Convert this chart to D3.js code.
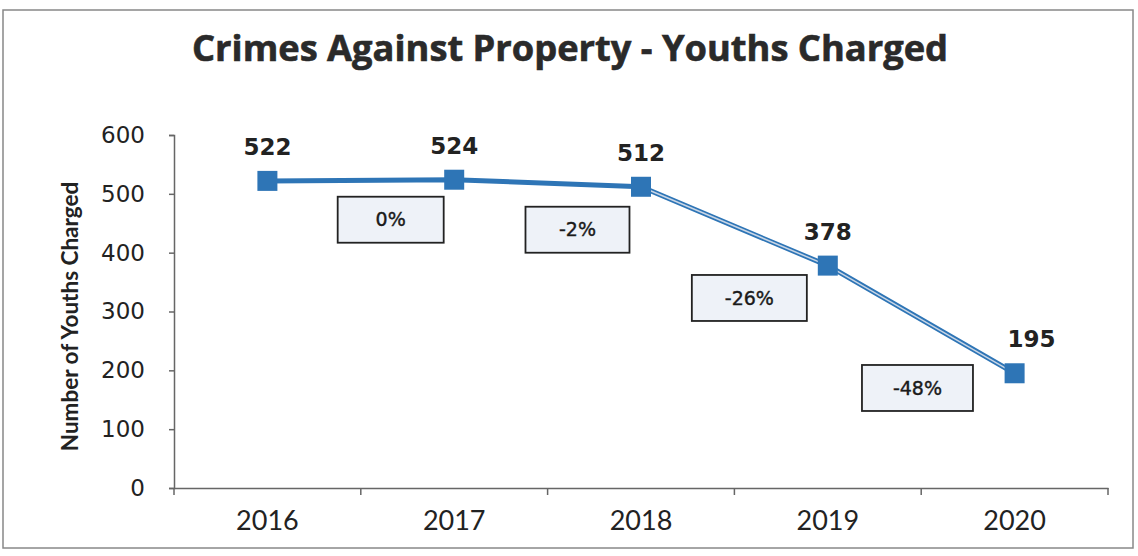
<!DOCTYPE html>
<html><head><meta charset="utf-8">
<script src="https://cdn.jsdelivr.net/npm/d3@7"></script>
<style>body{margin:0;background:#fff}svg{display:block}</style>
</head><body>
<svg id="c" width="1138" height="556"></svg>
<script>
const years = ["2016","2017","2018","2019","2020"];
const values = [522, 524, 512, 378, 195];
const yTicks = [0,100,200,300,400,500,600];
const pctLabels = ["0%","-2%","-26%","-48%"];
// annotation anchor in data space: fractional category index, value
const pctX = [0.66, 1.66, 2.58, 3.48];
const pctY = [456, 439, 323, 170];
const pctW = [106, 104, 115, 111];
const title = "Crimes Against Property - Youths Charged";
const yTitle = "Number of Youths Charged";

const svg = d3.select("#c");
const L = 174, R = 1108, T = 135, B = 488;
const blue = "#2e75b6";

svg.append("rect").attr("x",3).attr("y",10).attr("width",1130).attr("height",538)
  .attr("fill","none").attr("stroke","#888").attr("stroke-width",1.5);

const x = d3.scaleBand().domain(years).range([L,R]);
const xc = i => L + (i+0.5)*x.bandwidth();
const y = d3.scaleLinear().domain([0,600]).range([B,T]);

svg.append("text").attr("x",570).attr("y",61).attr("text-anchor","middle")
  .attr("font-family","Open Sans").attr("font-weight","bold").attr("font-size",35)
  .attr("fill","#2a2a2a").attr("stroke","#2a2a2a").attr("stroke-width",0.6)
  .attr("textLength",756).attr("lengthAdjust","spacingAndGlyphs").text(title);

// y axis
const ya = svg.append("g").attr("transform",`translate(${L},0)`)
  .call(d3.axisLeft(y).tickValues(yTicks).tickSize(5).tickPadding(24));
ya.select(".domain").attr("stroke","#666").attr("stroke-width",1.5);
ya.selectAll(".tick line").attr("stroke","#666").attr("stroke-width",1.5);
ya.selectAll("text").attr("font-family","DejaVu Sans").attr("font-size",23).attr("fill","#222");

// x axis
const xa = svg.append("g").attr("transform",`translate(0,${B})`)
  .call(d3.axisBottom(x).tickSize(0).tickPadding(23));
xa.select(".domain").attr("stroke","#666").attr("stroke-width",1.5);
xa.selectAll("text").attr("font-family","Lato").attr("font-size",27).attr("fill","#222");
// x tick marks at band boundaries
svg.append("g").selectAll("line").data(d3.range(years.length+1)).join("line")
  .attr("x1",i=>L+i*x.bandwidth()).attr("x2",i=>L+i*x.bandwidth())
  .attr("y1",B).attr("y2",B+7).attr("stroke","#666").attr("stroke-width",1.5);

svg.append("text").attr("transform",`translate(78,${(T+B)/2+5}) rotate(-90)`)
  .attr("text-anchor","middle").attr("font-family","Lato").attr("font-weight","bold")
  .attr("font-size",22.5).attr("fill","#222").text(yTitle);

// line
const line = d3.line().x((d,i)=>xc(i)).y(d=>y(d));
svg.append("path").datum(values).attr("d",line).attr("fill","none")
  .attr("stroke",blue).attr("stroke-width",5);
// lighter stripe on later segments
svg.append("path").datum(values.slice(2)).attr("d",d3.line().x((d,i)=>xc(i+2)).y(d=>y(d)))
  .attr("fill","none").attr("stroke","#c9d6e6").attr("stroke-width",1.5);

svg.append("g").selectAll("rect").data(values).join("rect")
  .attr("x",(d,i)=>xc(i)-10).attr("y",d=>y(d)-10).attr("width",20).attr("height",20)
  .attr("fill",blue);

svg.append("g").selectAll("text").data(values).join("text")
  .attr("x",(d,i)=>xc(i)+(i===4?17:0)).attr("y",d=>y(d)-26).attr("text-anchor","middle")
  .attr("font-family","DejaVu Sans").attr("font-weight","bold").attr("font-size",23)
  .attr("fill","#222").text(d=>d);

// percent boxes
const pg = svg.append("g").selectAll("g").data(pctLabels).join("g")
  .attr("transform",(d,i)=>`translate(${L+(pctX[i]+0.5)*x.bandwidth()},${y(pctY[i])})`);
pg.append("rect").attr("x",(d,i)=>-pctW[i]/2).attr("y",-23).attr("width",(d,i)=>pctW[i]).attr("height",46)
  .attr("fill","#eef2f8").attr("stroke","#222").attr("stroke-width",1.8);
pg.append("text").attr("text-anchor","middle").attr("dy","0.35em")
  .attr("font-family","DejaVu Sans").attr("font-size",19).attr("fill","#1a1a1a")
  .attr("stroke","#1a1a1a").attr("stroke-width",0.4).text(d=>d);
</script>
</body></html>
